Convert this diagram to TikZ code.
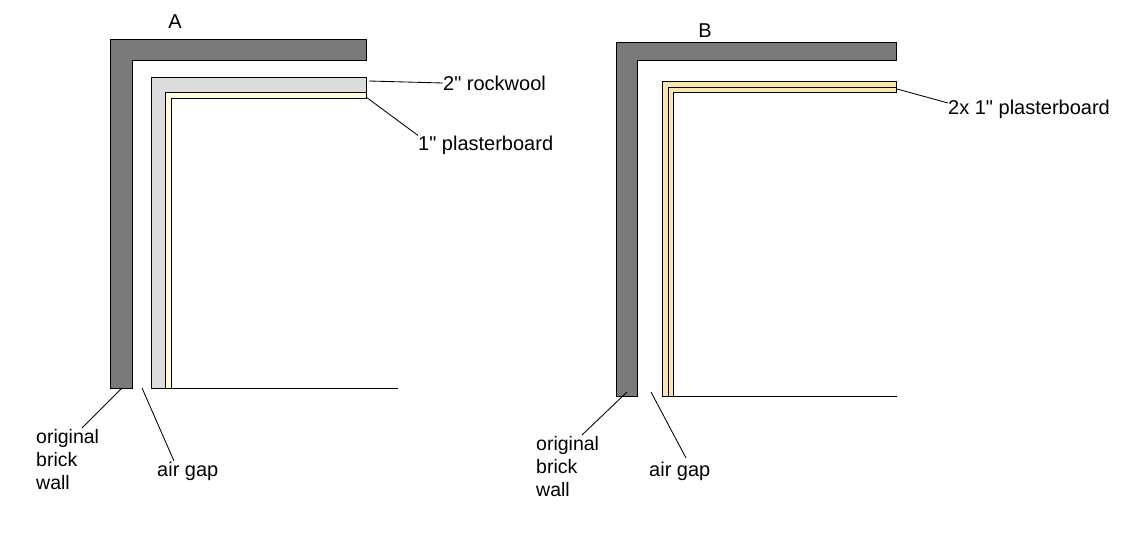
\documentclass[tikz,border=0pt]{standalone}
\usepackage{fontspec}
\setmainfont{Liberation Sans}
\definecolor{brick}{RGB}{122,122,122}
\definecolor{rock}{RGB}{220,220,220}
\definecolor{boardA}{RGB}{255,252,215}
\definecolor{boardB}{RGB}{250,230,170}
\newcommand{\qq}{\XeTeXglyph\XeTeXcharglyph"22\relax}
\tikzset{
  x=1pt,y=-1pt,
  outline/.style={draw=black,line width=1.3pt,line join=miter},
  wall/.style={outline,fill=brick},
  wool/.style={outline,fill=rock},
  boarda/.style={outline,fill=boardA},
  boardb/.style={outline,fill=boardB},
  leader/.style={draw=black,line width=0.85pt},
  lbl/.style={inner sep=0pt,font=\fontsize{20}{23}\selectfont,text=black},
  lblc/.style={inner sep=0pt,font=\fontsize{19.5}{23}\selectfont,text=black,align=left,anchor=north west}
}
\begin{document}
\begin{tikzpicture}
\useasboundingbox (0,0) rectangle (1130,549);
\fill[white] (0,0) rectangle (1130,549);
% Panel A
\draw[wall] (110.5,388.5) -- (110.5,39.5) -- (366.5,39.5) -- (366.5,60.5) -- (132.5,60.5) -- (132.5,388.5) -- cycle;
\draw[wool] (151.5,388.5) -- (151.5,77.5) -- (366.5,77.5) -- (366.5,92.5) -- (165.5,92.5) -- (165.5,388.5) -- cycle;
\draw[boarda] (165.5,388.5) -- (165.5,92.5) -- (366.5,92.5) -- (366.5,98.5) -- (171.5,98.5) -- (171.5,388.5) -- cycle;
\coordinate (aend) at (398,388.5);
\coordinate (astart) at (151.5,388.5);
\draw[outline] (astart) -- (aend);
\node[lbl] (labA) at (175,22) {A};
\node[lbl,anchor=west] (rock) at (443,83) {2\qq{} rockwool};
\node[lbl,anchor=west] (plasA) at (418,145) {1\qq{} plasterboard};
\node[lblc] (brickA) at (36,429) {original\\brick\\wall};
\node[lbl,anchor=west] (gapA) at (157,471) {air gap};
\coordinate (rockp) at (369,81);
\coordinate (plasp) at (366,97);
\coordinate (brickp) at (122,388);
\coordinate (gapp) at (142,388);
\coordinate (brickq) at (82,428);
\coordinate (gapq) at (174,461);
\draw[leader] (rockp) -- (rock.west);
\draw[leader] (plasp) -- (plasA.north west);
\draw[leader] (brickp) -- (brickq);
\draw[leader] (gapp) -- (gapq);
% Panel B
\draw[wall] (616.5,396.5) -- (616.5,42.5) -- (896.5,42.5) -- (896.5,60.5) -- (637.5,60.5) -- (637.5,396.5) -- cycle;
\draw[boardb] (662.5,396.5) -- (662.5,81.5) -- (896.5,81.5) -- (896.5,87.5) -- (668.5,87.5) -- (668.5,396.5) -- cycle;
\draw[boardb] (668.5,396.5) -- (668.5,87.5) -- (896.5,87.5) -- (896.5,92.5) -- (673.5,92.5) -- (673.5,396.5) -- cycle;
\coordinate (bend) at (896.5,396.5);
\coordinate (bstart) at (662.5,396.5);
\draw[outline] (bstart) -- (bend);
\node[lbl] (labB) at (705,31) {B};
\node[lbl,anchor=west] (plasB) at (948,109) {2x 1\qq{} plasterboard};
\node[lblc] (brickB) at (536,436) {original\\brick\\wall};
\node[lbl,anchor=west] (gapB) at (649,471) {air gap};
\coordinate (plasq) at (897,89);
\coordinate (brickr) at (627,392);
\coordinate (gapr) at (651,392);
\coordinate (bricks) at (582,435);
\coordinate (gaps) at (686,458);
\draw[leader] (plasq) -- ([yshift=6pt]plasB.west);
\draw[leader] (brickr) -- (bricks);
\draw[leader] (gapr) -- (gaps);
\end{tikzpicture}
\end{document}
